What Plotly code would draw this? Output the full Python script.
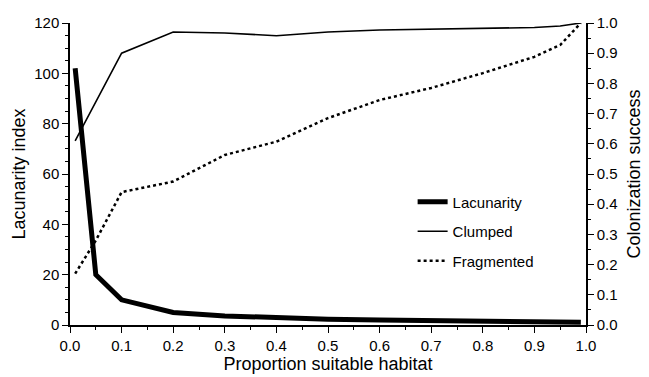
import plotly.graph_objects as go

x_vals = [0.01, 0.05, 0.1, 0.2, 0.3, 0.4, 0.5, 0.6, 0.7, 0.8, 0.9, 0.95, 0.99]
lacunarity = [102, 20, 10, 5, 3.6, 2.8, 2.3, 2.0, 1.7, 1.5, 1.3, 1.2, 1.1]
clumped = [0.61, 0.74, 0.90, 0.97, 0.967, 0.958, 0.97, 0.977, 0.98, 0.983, 0.985, 0.99, 1.0]
fragmented = [0.17, 0.28, 0.44, 0.475, 0.563, 0.607, 0.685, 0.745, 0.785, 0.834, 0.888, 0.927, 1.0]

x_ticks = [0.0, 0.1, 0.2, 0.3, 0.4, 0.5, 0.6, 0.7, 0.8, 0.9, 1.0]
y_ticks = [0, 20, 40, 60, 80, 100, 120]
y2_ticks = [0.0, 0.1, 0.2, 0.3, 0.4, 0.5, 0.6, 0.7, 0.8, 0.9, 1.0]

font_family = "Liberation Sans, Arial, sans-serif"

fig = go.Figure()
fig.add_trace(go.Scatter(x=x_vals, y=lacunarity, mode="lines", name="Lacunarity",
                         line=dict(color="black", width=5), legendgroup="a"))
fig.add_trace(go.Scatter(x=x_vals, y=clumped, mode="lines", name="Clumped",
                         line=dict(color="black", width=1.6), yaxis="y2", legendgroup="b"))
fig.add_trace(go.Scatter(x=x_vals, y=fragmented, mode="lines", name="Fragmented",
                         line=dict(color="black", width=2.5, dash="dot"), yaxis="y2", legendgroup="c"))

axis_common = dict(showgrid=False, zeroline=False, showline=True, linecolor="black", linewidth=1.5,
                   ticks="outside", ticklen=6, tickwidth=1.2, tickcolor="black", automargin=False,
                   tickfont=dict(size=15, color="black", family=font_family))

fig.update_layout(
    width=641, height=369,
    margin=dict(l=62, r=63, t=15, b=52),
    plot_bgcolor="white", paper_bgcolor="white",
    font=dict(family=font_family, color="black"),
    xaxis=dict(range=[0, 1], tickvals=x_ticks, ticktext=[f"{v:.1f}" for v in x_ticks],
               title=dict(text="Proportion suitable habitat", font=dict(size=18), standoff=4),
               minor=dict(dtick=0.05, ticks="outside", ticklen=3, tickcolor="black"),
               **axis_common),
    yaxis=dict(range=[0, 120], tickvals=y_ticks,
               title=dict(text="Lacunarity index", font=dict(size=18), standoff=4),
               minor=dict(dtick=5, ticks="outside", ticklen=3, tickcolor="black"),
               **axis_common),
    yaxis2=dict(range=[0, 1], tickvals=y2_ticks, ticktext=[f"{v:.1f}" for v in y2_ticks],
                overlaying="y", side="right",
                title=dict(text="Colonization success", font=dict(size=18), standoff=11),
                minor=dict(dtick=0.05, ticks="outside", ticklen=3, tickcolor="black"),
                **axis_common),
    legend=dict(x=0.664, y=0.462, xanchor="left", yanchor="top", bgcolor="rgba(0,0,0,0)",
                font=dict(size=15, color="black"), itemwidth=30, tracegroupgap=7),
    showlegend=True,
)

fig.write_html("out.html")
